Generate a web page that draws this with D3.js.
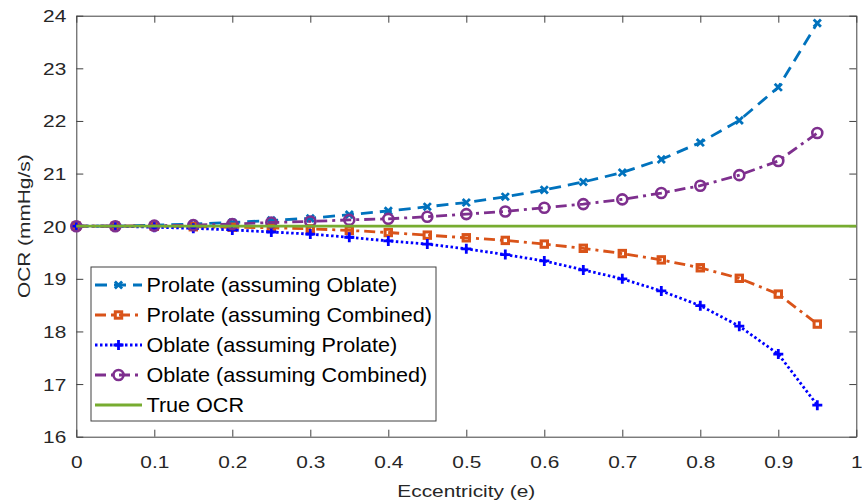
<!DOCTYPE html>
<html>
<head>
<meta charset="utf-8">
<script src="https://cdn.jsdelivr.net/npm/d3@7"></script>
<style>
  html, body { margin: 0; padding: 0; background: #fff; }
  svg { display: block; font-family: "Liberation Sans", Arial, Helvetica, sans-serif; }
</style>
</head>
<body>
<svg id="chart" width="862" height="503"></svg>
<script>
// Eccentricity samples and the OCR estimated under each shape assumption
const eccentricity = [0, 0.05, 0.1, 0.15, 0.2, 0.25, 0.3, 0.35, 0.4, 0.45,
                      0.5, 0.55, 0.6, 0.65, 0.7, 0.75, 0.8, 0.85, 0.9, 0.95];
const prolateAssumingOblate = [20.00, 20.00, 20.02, 20.04, 20.07, 20.11, 20.15, 20.22, 20.29, 20.37,
                               20.45, 20.56, 20.69, 20.84, 21.02, 21.27, 21.59, 22.01, 22.64, 23.86];
const prolateAssumingCombined = [20.00, 20.00, 20.00, 19.99, 19.98, 19.97, 19.95, 19.92, 19.88, 19.83,
                                 19.78, 19.73, 19.66, 19.58, 19.48, 19.36, 19.21, 19.01, 18.71, 18.14];
const oblateAssumingProlate = [20.00, 20.00, 19.98, 19.96, 19.93, 19.89, 19.85, 19.79, 19.72, 19.66,
                               19.57, 19.46, 19.34, 19.17, 19.00, 18.77, 18.49, 18.10, 17.57, 16.60];
const oblateAssumingCombined = [20.00, 20.00, 20.01, 20.02, 20.04, 20.07, 20.09, 20.12, 20.14, 20.18,
                                20.23, 20.28, 20.35, 20.42, 20.51, 20.63, 20.77, 20.97, 21.24, 21.77];
const trueOCR = 20;
const xTicks = [0, 0.1, 0.2, 0.3, 0.4, 0.5, 0.6, 0.7, 0.8, 0.9, 1];
const yTicks = [16, 17, 18, 19, 20, 21, 22, 23, 24];
const seriesNames = ["Prolate (assuming Oblate)", "Prolate (assuming Combined)",
                     "Oblate (assuming Prolate)", "Oblate (assuming Combined)", "True OCR"];

const series = [
  { name: seriesNames[0], values: prolateAssumingOblate, color: "#0072BD", dash: "12,7", marker: "x" },
  { name: seriesNames[1], values: prolateAssumingCombined, color: "#D95319", dash: "11,5,3,5", marker: "square" },
  { name: seriesNames[2], values: oblateAssumingProlate, color: "#0000FF", dash: "2.5,2.5", marker: "plus" },
  { name: seriesNames[3], values: oblateAssumingCombined, color: "#7E2F8E", dash: "11,5,3,5", marker: "circle" }
];

const svg = d3.select("#chart");
const plot = { left: 76.3, right: 856.3, top: 15.7, bottom: 436.7 };
const textStretch = 1.28;
const axisColor = "#404040";
const textColor = "#262626";

const x = d3.scaleLinear().domain([0, 1]).range([plot.left, plot.right]);
const y = d3.scaleLinear().domain([16, 24]).range([plot.bottom, plot.top]);

// Plot area background
svg.append("rect")
  .attr("x", plot.left).attr("y", plot.top)
  .attr("width", plot.right - plot.left).attr("height", plot.bottom - plot.top)
  .attr("fill", "#fff");

// Axes (ticks point inward, box on all four sides)
function styleAxis(g) {
  g.select(".domain").attr("stroke", axisColor).attr("stroke-width", 1);
  g.selectAll(".tick line").attr("stroke", axisColor).attr("stroke-width", 1);
  g.selectAll(".tick text").attr("fill", textColor).attr("font-size", 16.3)
    .attr("font-family", "Liberation Sans, Arial, sans-serif");
}

const gx = svg.append("g").attr("transform", `translate(0,${plot.bottom})`)
  .call(d3.axisBottom(x).tickValues(xTicks).tickFormat(d3.format("")).tickSizeInner(-7).tickSizeOuter(0).tickPadding(0))
  .call(styleAxis);
gx.selectAll(".tick text").attr("y", 0).attr("dy", 0)
  .attr("transform", `translate(0,31.5) scale(${textStretch},1)`);

const gy = svg.append("g").attr("transform", `translate(${plot.left},0)`)
  .call(d3.axisLeft(y).tickValues(yTicks).tickFormat(d3.format("")).tickSizeInner(-7).tickSizeOuter(0).tickPadding(0))
  .call(styleAxis);
gy.selectAll(".tick text").attr("x", 0).attr("dy", 0)
  .attr("transform", `translate(-10,6) scale(${textStretch},1)`);

svg.append("g").attr("transform", `translate(0,${plot.top})`)
  .call(d3.axisTop(x).tickValues(xTicks).tickFormat("").tickSizeInner(-7).tickSizeOuter(0))
  .call(styleAxis);
svg.append("g").attr("transform", `translate(${plot.right},0)`)
  .call(d3.axisRight(y).tickValues(yTicks).tickFormat("").tickSizeInner(-7).tickSizeOuter(0))
  .call(styleAxis);

// Axis titles
svg.append("text")
  .attr("transform", `translate(${(plot.left + plot.right) / 2},${plot.bottom + 60}) scale(${textStretch},1)`)
  .attr("text-anchor", "middle").attr("font-size", 16.3).attr("fill", textColor)
  .text("Eccentricity (e)");
svg.append("text")
  .attr("transform", `translate(30,${(plot.top + plot.bottom) / 2}) rotate(-90) scale(${textStretch},1)`)
  .attr("text-anchor", "middle").attr("font-size", 16.3).attr("fill", textColor)
  .text("OCR (mmHg/s)");

// Marker shapes
function drawMarker(g, type, color, cx, cy) {
  if (type === "x") {
    const s = 3.6;
    g.append("path").attr("d", `M${cx - s},${cy - s}L${cx + s},${cy + s}M${cx - s},${cy + s}L${cx + s},${cy - s}`)
      .attr("stroke", color).attr("stroke-width", 2.8).attr("fill", "none");
  } else if (type === "plus") {
    const s = 5;
    g.append("path").attr("d", `M${cx - s},${cy}L${cx + s},${cy}M${cx},${cy - s}L${cx},${cy + s}`)
      .attr("stroke", color).attr("stroke-width", 2.8).attr("fill", "none");
  } else if (type === "square") {
    const s = 3.2;
    g.append("rect").attr("x", cx - s).attr("y", cy - s).attr("width", 2 * s).attr("height", 2 * s)
      .attr("stroke", color).attr("stroke-width", 3).attr("fill", "none");
  } else if (type === "circle") {
    g.append("circle").attr("cx", cx).attr("cy", cy).attr("r", 5)
      .attr("stroke", color).attr("stroke-width", 2.6).attr("fill", "none");
  }
}

const line = d3.line().x(d => x(d[0])).y(d => y(d[1]));

// Data series
series.forEach(s => {
  const g = svg.append("g");
  const pts = eccentricity.map((e, i) => [e, s.values[i]]);
  g.append("path").datum(pts).attr("d", line)
    .attr("fill", "none").attr("stroke", s.color).attr("stroke-width", 2.8)
    .attr("stroke-dasharray", s.dash);
  pts.forEach(p => drawMarker(g, s.marker, s.color, x(p[0]), y(p[1])));
});

// Reference line at the true OCR
svg.append("line")
  .attr("x1", x(0)).attr("x2", x(1)).attr("y1", y(trueOCR)).attr("y2", y(trueOCR))
  .attr("stroke", "#77AC30").attr("stroke-width", 2.8);

// Legend
const legend = { x: 91, y: 267, w: 345, h: 154, rowStart: 285, rowStep: 30 };
svg.append("rect")
  .attr("x", legend.x).attr("y", legend.y).attr("width", legend.w).attr("height", legend.h)
  .attr("fill", "#fff").attr("stroke", axisColor).attr("stroke-width", 1);

const legendItems = series.concat([{ name: seriesNames[4], color: "#77AC30", dash: null, marker: null }]);
legendItems.forEach((s, i) => {
  const cy = legend.rowStart + i * legend.rowStep;
  const g = svg.append("g");
  g.append("line").attr("x1", 95).attr("x2", 142).attr("y1", cy).attr("y2", cy)
    .attr("stroke", s.color).attr("stroke-width", 2.8)
    .attr("stroke-dasharray", s.dash);
  if (s.marker) drawMarker(g, s.marker, s.color, 118.5, cy);
  g.append("text")
    .attr("transform", `translate(146.5,${cy + 7}) scale(1.08,1)`)
    .attr("font-size", 20).attr("fill", "#000")
    .text(s.name);
});
</script>
</body>
</html>
